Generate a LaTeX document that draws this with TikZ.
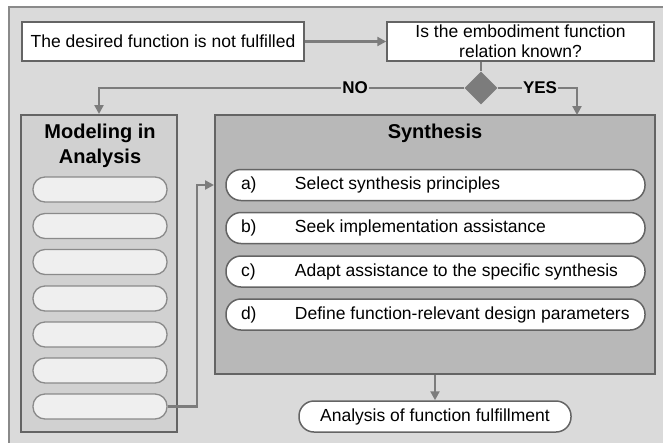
\documentclass[tikz,border=0pt]{standalone}
\usepackage{fontspec}
\setmainfont{Liberation Sans}
\usetikzlibrary{shapes,arrows.meta,positioning,calc}
\definecolor{bggray}{HTML}{DADADA}
\definecolor{framegray}{HTML}{8A8A8A}
\definecolor{edgegray}{HTML}{646464}
\definecolor{linegray}{HTML}{7C7C7C}
\definecolor{modelfill}{HTML}{D1D1D1}
\definecolor{pillfill}{HTML}{EFEFEF}
\definecolor{synthfill}{HTML}{B8B8B8}

\begin{document}
\begin{tikzpicture}[x=1pt, y=-1pt,
  txtbox/.style={rectangle, draw=edgegray, line width=1.5pt, fill=white, minimum width=#1, minimum height=39pt, inner sep=0pt, align=center, font=\fontsize{17.5}{20}\selectfont},
  panel/.style={rectangle, draw=edgegray, line width=2pt, fill=#1, inner sep=0pt},
  mpill/.style={rectangle, rounded corners=12pt, draw=framegray, line width=1.3pt, fill=pillfill, minimum width=134pt, minimum height=25pt, inner sep=0pt},
  spill/.style={rectangle, rounded corners=15pt, draw=edgegray, line width=1.5pt, fill=white, minimum height=31pt, inner xsep=15pt, inner ysep=0pt, font=\fontsize{17.5}{20}\selectfont},
  ttl/.style={font=\fontsize{20}{25}\selectfont\bfseries, align=center},
  lbl/.style={font=\fontsize{17}{20}\selectfont\bfseries, fill=bggray, inner xsep=1pt, inner ysep=2pt},
  conn/.style={draw=linegray, line width=2.8pt},
  arr/.style={conn, -{Triangle[length=9pt, width=9pt]}}
]
  \useasboundingbox (0,0) rectangle (663,442);
  \clip (0,0) rectangle (663,442);
  \fill[white] (0,0) rectangle (663,442);
  \draw[framegray, line width=1.5pt, fill=bggray] (9,7) rectangle (680,460);

  % Top row
  \node[txtbox=282pt] (desired) at (163,41.5) {The desired function is not fulfilled};
  \node[txtbox=267pt] (known) at (520.5,41.5) {Is the embodiment function\\relation known?};
  \node[diamond, fill=linegray, minimum size=33pt, inner sep=0pt] (dia) at (481,88) {};
  \draw[arr] (desired) -- (known);
  \draw[conn] (known.south -| dia) -- (dia.north);

  % Panels
  \node[panel=modelfill, minimum width=156pt, minimum height=317pt] (model) at (99,273.5) {};
  \node[panel=synthfill, minimum width=440pt, minimum height=259pt] (synth) at (435,244.5) {};
  \node[ttl] (mtitle) at (100,146) {Modeling in\\Analysis};
  \node[ttl] (stitle) at (435,133) {Synthesis};

  \foreach \i/\y in {1/189.5, 2/226, 3/262, 4/298.5, 5/334.5, 6/370.5, 7/406.5}{
    \node[mpill] (m\i) at (100,\y) {};
  }
  \foreach \n/\y/\txt in {a/185/Select synthesis principles, b/228/Seek implementation assistance, c/271.5/Adapt assistance to the specific synthesis, d/314.5/Define function-relevant design parameters}{
    \node[spill] (s\n) at (435.5,\y) {\makebox[389pt][l]{\makebox[54pt][l]{\n)}\txt}};
  }
  \node[spill, minimum width=272pt, inner xsep=0pt] (check) at (435,416.5) {Analysis of function fulfillment};

  % Branches
  \node[lbl] (no) at (355,88) {NO};
  \node[lbl] (yes) at (540,88) {YES};
  \coordinate (synthin) at (577,115);
  \coordinate (turn) at (197,406.5);
  \draw[conn] (dia.west) -- (no.east);
  \draw[arr] (no.west) -| (model.north);
  \draw[conn] (dia.east) -- (yes.west);
  \draw[arr] (yes.east) -| (synthin);
  \draw[arr] (m7.east) -- (turn) |- (sa -| synth.west);
  \draw[arr] (synth.south) -- (check.north);
\end{tikzpicture}
\end{document}
